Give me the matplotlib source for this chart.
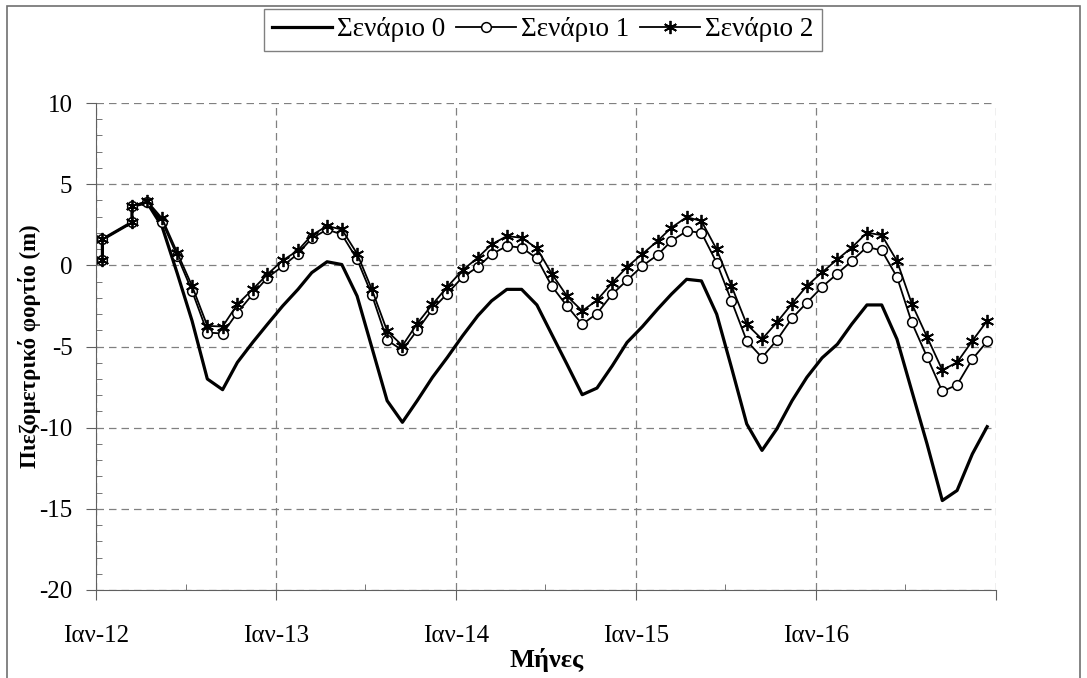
import matplotlib
matplotlib.use('Agg')
import matplotlib.pyplot as plt
import matplotlib.dates as mdates
from matplotlib.patches import Rectangle
from matplotlib.ticker import MultipleLocator
import pandas as pd

# μήνες μετρήσεων (Ιαν και Μαρ 2012 έχουν δύο τιμές)
dates = (['2012-01-14', '2012-01-14', '2012-03-14', '2012-03-14'] +
         [d.strftime('%Y-%m-14') for d in pd.date_range('2012-04-01', '2016-12-01', freq='MS')])
dates = pd.to_datetime(dates)

scen0 = [0.35, 1.6, 2.65, 3.65, 3.85, 2.4, -0.5, -3.42, -7.0, -7.66, -5.98, -4.75, -3.63,
         -2.5, -1.48, -0.45, 0.22, 0.05, -1.89, -5.06, -8.34, -9.67, -8.34, -6.9, -5.68,
         -4.35, -3.11, -2.19, -1.48, -1.48, -2.44, -4.24, -6.09, -7.97, -7.56, -6.19, -4.75,
         -3.78, -2.7, -1.78, -0.86, -0.96, -3.01, -6.29, -9.77, -11.4, -10.08, -8.34, -6.9,
         -5.7, -4.86, -3.63, -2.44, -2.44, -4.55, -7.73, -11.0, -14.49, -13.87, -11.62, -9.94]
scen1 = [0.35, 1.6, 2.65, 3.65, 3.9, 2.7, 0.57, -1.58, -4.14, -4.2, -2.91, -1.78, -0.76,
         -0.05, 0.72, 1.66, 2.21, 1.9, 0.37, -1.82, -4.61, -5.23, -4.0, -2.7, -1.74,
         -0.73, -0.1, 0.68, 1.19, 1.09, 0.43, -1.27, -2.5, -3.63, -2.97, -1.78, -0.92,
         -0.04, 0.64, 1.5, 2.11, 2.01, 0.16, -2.19, -4.65, -5.68, -4.61, -3.26, -2.3,
         -1.33, -0.51, 0.27, 1.13, 0.92, -0.72, -3.52, -5.64, -7.77, -7.36, -5.78, -4.69]
scen2 = [0.35, 1.6, 2.65, 3.65, 3.95, 2.9, 0.78, -1.27, -3.73, -3.77, -2.4, -1.48, -0.55,
         0.3, 0.92, 1.86, 2.42, 2.21, 0.72, -1.48, -4.04, -4.95, -3.59, -2.4, -1.33,
         -0.3, 0.47, 1.29, 1.8, 1.7, 1.05, -0.51, -1.89, -2.81, -2.15, -1.07, -0.1,
         0.7, 1.5, 2.32, 2.97, 2.73, 0.98, -1.27, -3.63, -4.55, -3.52, -2.36, -1.27,
         -0.43, 0.37, 1.09, 2.01, 1.86, 0.27, -2.36, -4.41, -6.45, -5.98, -4.65, -3.42]

tick_dates = pd.to_datetime(['2012-01-01', '2013-01-01', '2014-01-01', '2015-01-01',
                             '2016-01-01', '2017-01-01'])
tick_labels = ['Ιαν-12', 'Ιαν-13', 'Ιαν-14', 'Ιαν-15', 'Ιαν-16', '']
labels = ['Σενάριο 0', 'Σενάριο 1', 'Σενάριο 2']

plt.rcParams['font.family'] = ['Liberation Serif', 'DejaVu Serif']
plt.rcParams['font.size'] = 18
plt.rcParams['axes.unicode_minus'] = False

fig = plt.figure(figsize=(10.87, 6.78), dpi=100)
ax = fig.add_axes([96 / 1087, 1 - 590 / 678, 900 / 1087, 487 / 678])

ax.plot(dates, scen0, color='black', lw=2.3, label=labels[0])
ax.plot(dates, scen1, color='black', lw=1.3, marker='o', ms=7, mfc='white',
        mec='black', mew=1.1, label=labels[1])
ax.plot(dates, scen2, color='black', lw=1.3, marker=(6, 2, 0), ms=9.5, mec='black',
        mew=1.3, label=labels[2])

ax.set_xlim(tick_dates[0], tick_dates[-1])
ax.set_ylim(-20, 10)
ax.set_xticks(tick_dates)
ax.set_xticklabels(tick_labels)
ax.xaxis.set_minor_locator(mdates.MonthLocator(bymonth=7))
ax.yaxis.set_major_locator(MultipleLocator(5))
ax.yaxis.set_minor_locator(MultipleLocator(1))

ax.grid(True, which='major', color='#808080', ls=(0, (6, 4)), lw=0.9)
for s in ['top', 'right']:
    ax.spines[s].set_visible(False)
for s in ['left', 'bottom']:
    ax.spines[s].set_color('#606060')
ax.tick_params(axis='x', which='major', direction='out', length=7, pad=18, color='#606060')
ax.tick_params(axis='y', which='major', direction='out', length=7, pad=10, color='#606060')
ax.tick_params(which='minor', direction='in', length=4, color='#606060')

ax.set_ylabel('Πιεζομετρικό φορτίο (m)', fontweight='bold', fontsize=16.5)
ax.yaxis.set_label_coords((41 - 96) / 900, 0.5)
fig.text(547 / 1087, 1 - 660 / 678, 'Μήνες', ha='center', va='center',
         fontweight='bold', fontsize=19)

leg = fig.legend(loc='center', bbox_to_anchor=(543 / 1087, 1 - 30 / 678), ncol=3,
                 fancybox=False, edgecolor='#606060', handlelength=2.2,
                 columnspacing=0.4, handletextpad=0.2, borderpad=0.3, borderaxespad=0,
                 fontsize=19.5)
leg.get_frame().set_linewidth(1.0)

fig.patches.append(Rectangle((7 / 1087, -0.1), 1073 / 1087, 1.1 - 6 / 678,
                             transform=fig.transFigure, fill=False,
                             edgecolor='#707070', lw=1.2))

fig.savefig('out.png', dpi=100)
